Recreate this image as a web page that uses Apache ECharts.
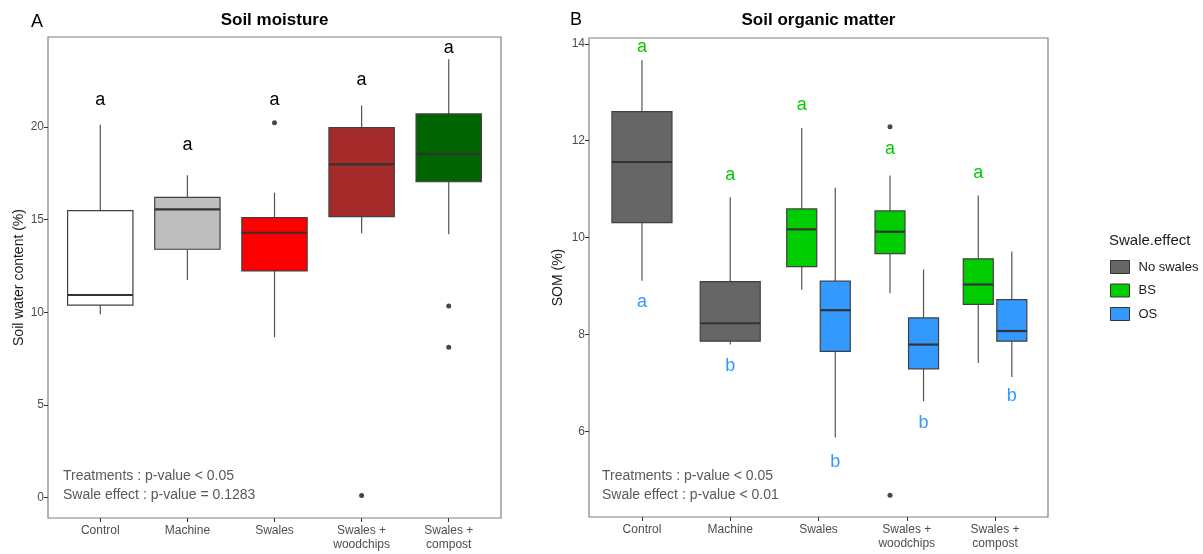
<!DOCTYPE html>
<html>
<head>
<meta charset="utf-8">
<script src="https://cdn.jsdelivr.net/npm/echarts@6/dist/echarts.min.js"></script>
<style>html,body{margin:0;padding:0;background:#fff;}#c{width:1203px;height:554px;}</style>
</head>
<body>
<div id="c"></div>
<script>
// ---------- DATA ----------
const categories = ['Control', 'Machine', 'Swales', 'Swales +\nwoodchips', 'Swales +\ncompost'];

// Soil moisture: [whiskerLow, Q1, median, Q3, whiskerHigh]
const moistureStats = [
  [9.89, 10.39, 10.93, 15.48, 20.12],
  [11.74, 13.40, 15.55, 16.20, 17.39],
  [8.65, 12.23, 14.29, 15.10, 16.45],
  [14.26, 15.16, 17.98, 19.96, 21.16],
  [14.21, 17.04, 18.55, 20.70, 23.65]
];
const moistureOutliers = [[3, 20.23], [4, 0.11], [5, 10.34], [5, 8.11]];
const moistureLetters = ['a', 'a', 'a', 'a', 'a'];
const moistureLetterY = [21.45, 19.02, 21.45, 22.52, 24.24];
const moistureTicks = [0, 5, 10, 15, 20];

// Soil organic matter
const somNoSwalesCats = [1, 2];
const somNoSwalesStats = [
  [9.11, 10.31, 11.56, 12.60, 13.66],
  [7.79, 7.86, 8.23, 9.09, 10.83]
];
const somBSCats = [3, 4, 5];
const somBSStats = [
  [8.92, 9.40, 10.17, 10.59, 12.26],
  [8.85, 9.67, 10.12, 10.55, 11.28],
  [7.41, 8.62, 9.03, 9.56, 10.87]
];
const somOSCats = [3, 4, 5];
const somOSStats = [
  [5.87, 7.65, 8.50, 9.10, 11.03],
  [6.62, 7.29, 7.79, 8.34, 9.34],
  [7.12, 7.86, 8.07, 8.72, 9.71]
];
const somBSOutliers = [[4, 12.29], [4, 4.68]];
const somLettersBS = ['a', 'a', 'a', 'a', 'a'];
const somLettersBSY = [13.93, 11.30, 12.73, 11.82, 11.34];
const somLettersOS = ['a', 'b', 'b', 'b', 'b'];
const somLettersOSY = [8.67, 7.34, 5.36, 6.16, 6.72];
const somTicks = [6, 8, 10, 12, 14];

// ---------- STYLE ----------
const moistureColors = ['#FFFFFF', '#BEBEBE', '#FF0000', '#A52A2A', '#006400'];
const colNo = '#666666', colBS = '#00CC00', colOS = '#3399FF';
const FONT = '"Liberation Sans", Arial, sans-serif';

function boxRender(offset, width, fillFn) {
  return function (params, api) {
    const x = api.value(0) + offset;
    const low = api.coord([x, api.value(1)]);
    const q1 = api.coord([x, api.value(2)]);
    const med = api.coord([x, api.value(3)]);
    const q3 = api.coord([x, api.value(4)]);
    const high = api.coord([x, api.value(5)]);
    const hw = api.size([width, 0])[0] / 2;
    const cx = low[0];
    return {
      type: 'group',
      children: [
        { type: 'line', shape: { x1: cx, y1: high[1], x2: cx, y2: q3[1] }, style: { stroke: '#555555', lineWidth: 1.2 } },
        { type: 'line', shape: { x1: cx, y1: q1[1], x2: cx, y2: low[1] }, style: { stroke: '#555555', lineWidth: 1.2 } },
        { type: 'rect', shape: { x: cx - hw, y: q3[1], width: 2 * hw, height: q1[1] - q3[1] }, style: { fill: fillFn(params.dataIndex), stroke: '#404040', lineWidth: 1.2 } },
        { type: 'line', shape: { x1: cx - hw, y1: med[1], x2: cx + hw, y2: med[1] }, style: { stroke: '#333333', lineWidth: 2.2 } }
      ]
    };
  };
}
function textRender(offset, texts, color) {
  return function (params, api) {
    const p = api.coord([api.value(0) + offset, api.value(1)]);
    return {
      type: 'text', x: p[0], y: p[1],
      style: { text: texts[params.dataIndex], fill: color, font: '18px ' + FONT, align: 'center', verticalAlign: 'middle' }
    };
  };
}

function xAxisDef(gi) {
  return {
    type: 'value', gridIndex: gi, min: 0.4, max: 5.6,
    axisLine: { show: false, onZero: false }, splitLine: { show: false },
    axisTick: { show: true, customValues: [1, 2, 3, 4, 5], length: 4, lineStyle: { color: '#333333' } },
    axisLabel: { customValues: [1, 2, 3, 4, 5], formatter: v => categories[Math.round(v) - 1], color: '#4D4D4D', fontSize: 12, fontFamily: FONT, lineHeight: 14, margin: 6 }
  };
}
function yAxisDef(gi, min, max, ticks, name, gap) {
  return {
    type: 'value', gridIndex: gi, min: min, max: max,
    name: name, nameLocation: 'middle', nameGap: gap, nameMoveOverlap: false,
    nameTextStyle: { fontSize: 14, color: '#1A1A1A', fontFamily: FONT },
    axisLine: { show: false, onZero: false }, splitLine: { show: false },
    axisTick: { show: true, customValues: ticks, length: 4, lineStyle: { color: '#333333' } },
    axisLabel: { customValues: ticks, color: '#4D4D4D', fontSize: 12, fontFamily: FONT, margin: 4 }
  };
}

const idx = categories.map((c, i) => i + 1);
const moistureData = moistureStats.map((s, i) => [i + 1].concat(s));
const noData = somNoSwalesStats.map((s, i) => [somNoSwalesCats[i]].concat(s));
const bsData = somBSStats.map((s, i) => [somBSCats[i]].concat(s));
const osData = somOSStats.map((s, i) => [somOSCats[i]].concat(s));
const bsOff = -0.19, osOff = 0.19;
const bsLetterOffsets = [0, 0, bsOff, bsOff, bsOff];
const osLetterOffsets = [0, 0, osOff, osOff, osOff];

const option = {
  animation: false,
  backgroundColor: '#FFFFFF',
  grid: [
    { left: 48, right: 702, top: 37, bottom: 36, show: true, borderColor: '#7F7F7F', borderWidth: 1.2, backgroundColor: 'transparent' },
    { left: 589, right: 155, top: 38, bottom: 37, show: true, borderColor: '#7F7F7F', borderWidth: 1.2, backgroundColor: 'transparent' }
  ],
  xAxis: [xAxisDef(0), xAxisDef(1)],
  yAxis: [
    yAxisDef(0, -1.1, 24.85, moistureTicks, 'Soil water content (%)', 22),
    yAxisDef(1, 4.23, 14.12, somTicks, 'SOM (%)', 24)
  ],
  legend: {
    orient: 'vertical', left: 1110, top: 260, padding: 0, itemWidth: 19, itemHeight: 13, itemGap: 9.5,
    selectedMode: false, icon: 'rect',
    textStyle: { fontSize: 13, color: '#1A1A1A', fontFamily: FONT, padding: [0, 0, 0, 4] },
    data: [
      { name: 'No swales', itemStyle: { color: colNo, borderColor: '#333333', borderWidth: 1 } },
      { name: 'BS', itemStyle: { color: colBS, borderColor: '#333333', borderWidth: 1 } },
      { name: 'OS', itemStyle: { color: colOS, borderColor: '#333333', borderWidth: 1 } }
    ]
  },
  graphic: [
    { type: 'text', x: 274.5, y: 20, style: { text: 'Soil moisture', font: 'bold 17px ' + FONT, fill: '#000', align: 'center', verticalAlign: 'middle' } },
    { type: 'text', x: 818.5, y: 20, style: { text: 'Soil organic matter', font: 'bold 17px ' + FONT, fill: '#000', align: 'center', verticalAlign: 'middle' } },
    { type: 'text', x: 31, y: 22.5, style: { text: 'A', font: '18px ' + FONT, fill: '#000', align: 'left', verticalAlign: 'middle' } },
    { type: 'text', x: 570, y: 20.5, style: { text: 'B', font: '18px ' + FONT, fill: '#000', align: 'left', verticalAlign: 'middle' } },
    { type: 'text', x: 63, y: 476, style: { text: 'Treatments : p-value < 0.05', font: '14px ' + FONT, fill: '#595959', align: 'left', verticalAlign: 'middle' } },
    { type: 'text', x: 63, y: 495, style: { text: 'Swale effect : p-value = 0.1283', font: '14px ' + FONT, fill: '#595959', align: 'left', verticalAlign: 'middle' } },
    { type: 'text', x: 602, y: 476, style: { text: 'Treatments : p-value < 0.05', font: '14px ' + FONT, fill: '#595959', align: 'left', verticalAlign: 'middle' } },
    { type: 'text', x: 602, y: 495, style: { text: 'Swale effect : p-value < 0.01', font: '14px ' + FONT, fill: '#595959', align: 'left', verticalAlign: 'middle' } },
    { type: 'text', x: 1109, y: 241, style: { text: 'Swale.effect', font: '15px ' + FONT, fill: '#1A1A1A', align: 'left', verticalAlign: 'middle' } }
  ],
  series: [
    {
      type: 'custom', name: 'moisture', xAxisIndex: 0, yAxisIndex: 0,
      data: moistureData, encode: { x: 0, y: [1, 2, 3, 4, 5] },
      renderItem: boxRender(0, 0.75, i => moistureColors[i]), z: 2
    },
    {
      type: 'scatter', xAxisIndex: 0, yAxisIndex: 0, data: moistureOutliers,
      symbolSize: 5, itemStyle: { color: '#1A1A1A' }, z: 3
    },
    {
      type: 'custom', xAxisIndex: 0, yAxisIndex: 0,
      data: idx.map((x, i) => [x, moistureLetterY[i]]),
      renderItem: textRender(0, moistureLetters, '#000000'), z: 4
    },
    {
      type: 'custom', name: 'No swales', xAxisIndex: 1, yAxisIndex: 1,
      itemStyle: { color: colNo },
      data: noData, encode: { x: 0, y: [1, 2, 3, 4, 5] },
      renderItem: boxRender(0, 0.68, () => colNo), z: 2
    },
    {
      type: 'custom', name: 'BS', xAxisIndex: 1, yAxisIndex: 1,
      itemStyle: { color: colBS },
      data: bsData, encode: { x: 0, y: [1, 2, 3, 4, 5] },
      renderItem: boxRender(bsOff, 0.34, () => colBS), z: 2
    },
    {
      type: 'custom', name: 'OS', xAxisIndex: 1, yAxisIndex: 1,
      itemStyle: { color: colOS },
      data: osData, encode: { x: 0, y: [1, 2, 3, 4, 5] },
      renderItem: boxRender(osOff, 0.34, () => colOS), z: 2
    },
    {
      type: 'scatter', xAxisIndex: 1, yAxisIndex: 1,
      data: somBSOutliers.map(p => [p[0] + bsOff, p[1]]),
      symbolSize: 5, itemStyle: { color: '#1A1A1A' }, z: 3
    },
    {
      type: 'custom', xAxisIndex: 1, yAxisIndex: 1,
      data: idx.map((x, i) => [x + bsLetterOffsets[i], somLettersBSY[i]]),
      renderItem: textRender(0, somLettersBS, colBS), z: 4
    },
    {
      type: 'custom', xAxisIndex: 1, yAxisIndex: 1,
      data: idx.map((x, i) => [x + osLetterOffsets[i], somLettersOSY[i]]),
      renderItem: textRender(0, somLettersOS, colOS), z: 4
    }
  ]
};

const chart = echarts.init(document.getElementById('c'), null, { renderer: 'canvas' });
chart.setOption(option);
</script>
</body>
</html>
